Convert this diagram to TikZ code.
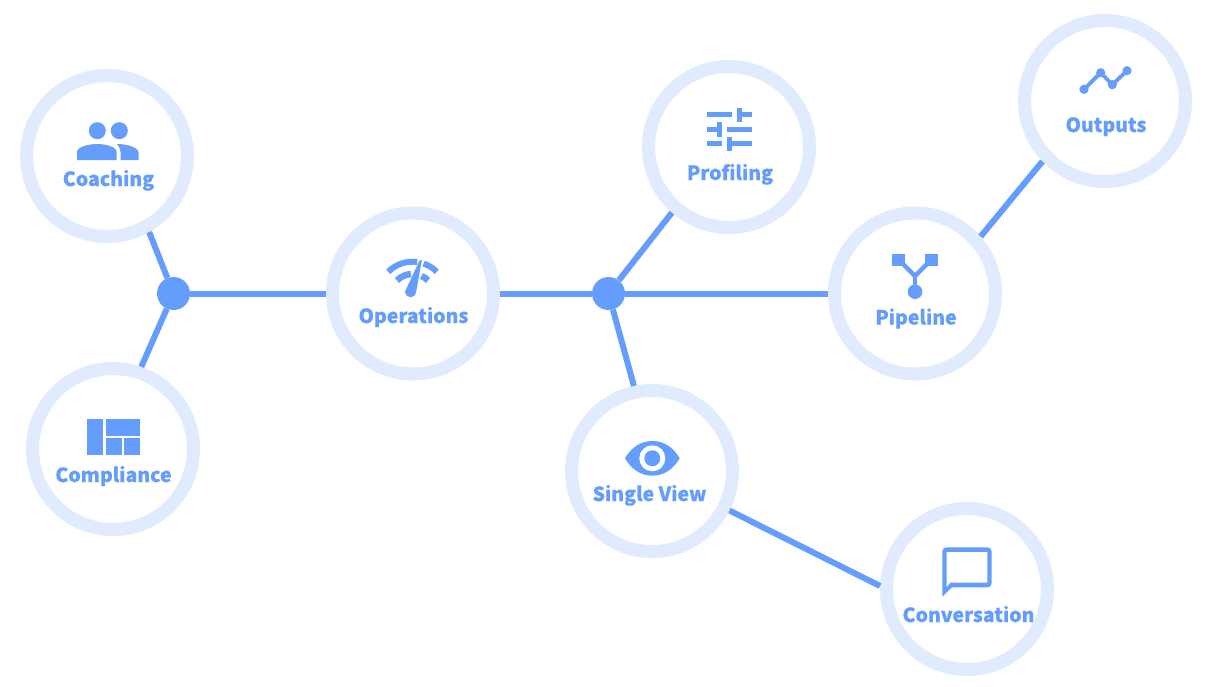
\documentclass[tikz,border=0pt]{standalone}
\usepackage{fontspec}
\setmainfont{Noto Sans CJK JP}[BoldFeatures={FakeBold=0.6}]
\definecolor{mainblue}{HTML}{659DFC}
\definecolor{ringblue}{HTML}{E0EBFD}
\tikzset{
  x=1pt,y=-1pt,
  ring/.style={circle,draw=ringblue,line width=13pt,fill=white,minimum size=161pt,inner sep=0pt},
  hub/.style={circle,fill=mainblue,minimum size=33pt,inner sep=0pt},
  link/.style={draw=mainblue,line width=6pt},
  lbl/.style={anchor=base,text=mainblue,inner sep=0pt,font=\fontsize{19.5}{19.5}\selectfont\bfseries},
  ico/.style={fill=mainblue,draw=none}
}
\begin{document}
\begin{tikzpicture}
\useasboundingbox (0,0) rectangle (1212,686);
\fill[white] (0,0) rectangle (1212,686);
% nodes
\node[ring] (coaching) at (107,156) {};
\node[ring] (compliance) at (113,449) {};
\node[ring] (operations) at (413,293.5) {};
\node[ring] (profiling) at (729,147) {};
\node[ring] (singleview) at (652,471) {};
\node[ring] (pipeline) at (915,293.5) {};
\node[ring] (outputs) at (1105,101) {};
\node[ring] (conversation) at (967,589) {};
\node[hub] (hubl) at (173.5,293.5) {};
\node[hub] (hubr) at (608.5,293.5) {};
% connectors
\path[link] (hubl) -- (coaching.-61.6);
\path[link] (hubl) -- (compliance.71.8);
\path[link] (hubl) -- (operations);
\path[link] (hubr) -- (operations);
\path[link] (hubr) -- (profiling.-131.7);
\path[link] (hubr) -- (pipeline);
\path[link] (hubr) -- (singleview.102);
\path[link] (singleview.-27.5) -- (conversation.178);
\path[link] (pipeline.41.7) -- (outputs.224.5);
% labels
\node[lbl] (t1) at (108.5,186) {Coaching};
\node[lbl] (t2) at (113.5,482) {Compliance};
\node[lbl] (t3) at (413.5,323) {Operations};
\node[lbl] (t4) at (730,180) {Profiling};
\node[lbl] (t5) at (649.5,501) {Single View};
\node[lbl] (t6) at (916,324.5) {Pipeline};
\node[lbl] (t7) at (1106,132) {Outputs};
\node[lbl] (t8) at (968.5,622) {Conversation};
% coaching icon
\fill[ico] (97.3,130.7) circle[radius=8.5];
\fill[ico] (119.3,130.7) circle[radius=8.5];
\fill[ico] (77,160) -- (77,152) .. controls (77,147) and (88,144) .. (97,144) .. controls (106,144) and (116.7,147) .. (116.7,152) -- (116.7,160) -- cycle;
\fill[ico] (120.5,160) -- (120.5,152) .. controls (120.5,149) and (119,146) .. (117,144) .. controls (126,144) and (138.7,147) .. (138.7,153) -- (138.7,160) -- cycle;
% compliance icon
\fill[ico] (87.3,419.3) rectangle (103.3,455);
\fill[ico] (106,419.3) rectangle (140,435.7);
\fill[ico] (106,438.3) rectangle (121.7,455);
\fill[ico] (124.3,438.3) rectangle (140,455);
% operations icon
\def\cx{412.5}\def\cy{296}
\draw[mainblue,line width=6pt] (\cx,\cy) ++(-135:34.3) arc[start angle=-135,end angle=-82,radius=34.3];
\draw[mainblue,line width=6pt] (\cx,\cy) ++(-71:34.3) arc[start angle=-71,end angle=-45,radius=34.3];
\draw[mainblue,line width=6.5pt] (\cx,\cy) ++(-135:22) arc[start angle=-135,end angle=-94,radius=22];
\draw[mainblue,line width=6.5pt] (\cx,\cy) ++(-66:22) arc[start angle=-66,end angle=-45,radius=22];
\fill[ico] (421.9,260) -- (416.2,291.7) arc[start angle=0,end angle=180,radius=5.6] -- (419.5,260.5) -- cycle;
% profiling icon
\fill[ico] (706.7,112) rectangle (731.7,117);
\fill[ico] (736.7,107.7) rectangle (741.7,121.7);
\fill[ico] (741.7,112) rectangle (751.7,117);
\fill[ico] (706.7,126.5) rectangle (716.7,131.5);
\fill[ico] (716.7,122.3) rectangle (721.7,136.7);
\fill[ico] (726.7,126.5) rectangle (751.7,131.5);
\fill[ico] (706.7,141) rectangle (721.7,146);
\fill[ico] (726.7,136.7) rectangle (731.7,151);
\fill[ico] (731.7,141) rectangle (751.7,146);
% pipeline icon
\fill[ico] (892.3,254) rectangle (905,266);
\fill[ico] (925,254) rectangle (937.7,266);
\fill[ico] (915,291.7) circle[radius=7.3];
\draw[mainblue,line width=4.5pt] (900,261) -- (915,276) -- (930,261);
\draw[mainblue,line width=4.5pt] (915,276) -- (915,290);
% outputs icon
\draw[mainblue,line width=3.8pt] (1084,89.3) -- (1100.7,72.7) -- (1112.3,84.7) -- (1127,70.7);
\fill[ico] (1084,89.3) circle[radius=4.6];
\fill[ico] (1100.7,72.7) circle[radius=4.6];
\fill[ico] (1112.3,84.7) circle[radius=4.6];
\fill[ico] (1127,70.7) circle[radius=4.6];
% eye icon
\fill[ico] (625,458.3) .. controls (631,447.5) and (641,441) .. (652.3,441) .. controls (664,441) and (673.5,447.5) .. (679.7,458.3) .. controls (673.5,469) and (664,475.7) .. (652.3,475.7) .. controls (641,475.7) and (631,469) .. (625,458.3) -- cycle;
\fill[white] (652.3,458.3) circle[radius=13];
\fill[ico] (652.3,458.3) circle[radius=8];
% conversation icon
\fill[ico,even odd rule] (942.3,596.7) -- (942.3,551.5) .. controls (942.3,549) and (944,547.3) .. (946.5,547.3) -- (987.5,547.3) .. controls (990,547.3) and (991.7,549) .. (991.7,551.5) -- (991.7,583) .. controls (991.7,585.5) and (990,587.3) .. (987.5,587.3) -- (952,587.3) -- cycle
 (946.7,551.9) -- (946.7,587.5) -- (950.2,582.7) -- (987.3,582.7) -- (987.3,551.9) -- cycle;
\end{tikzpicture}
\end{document}
